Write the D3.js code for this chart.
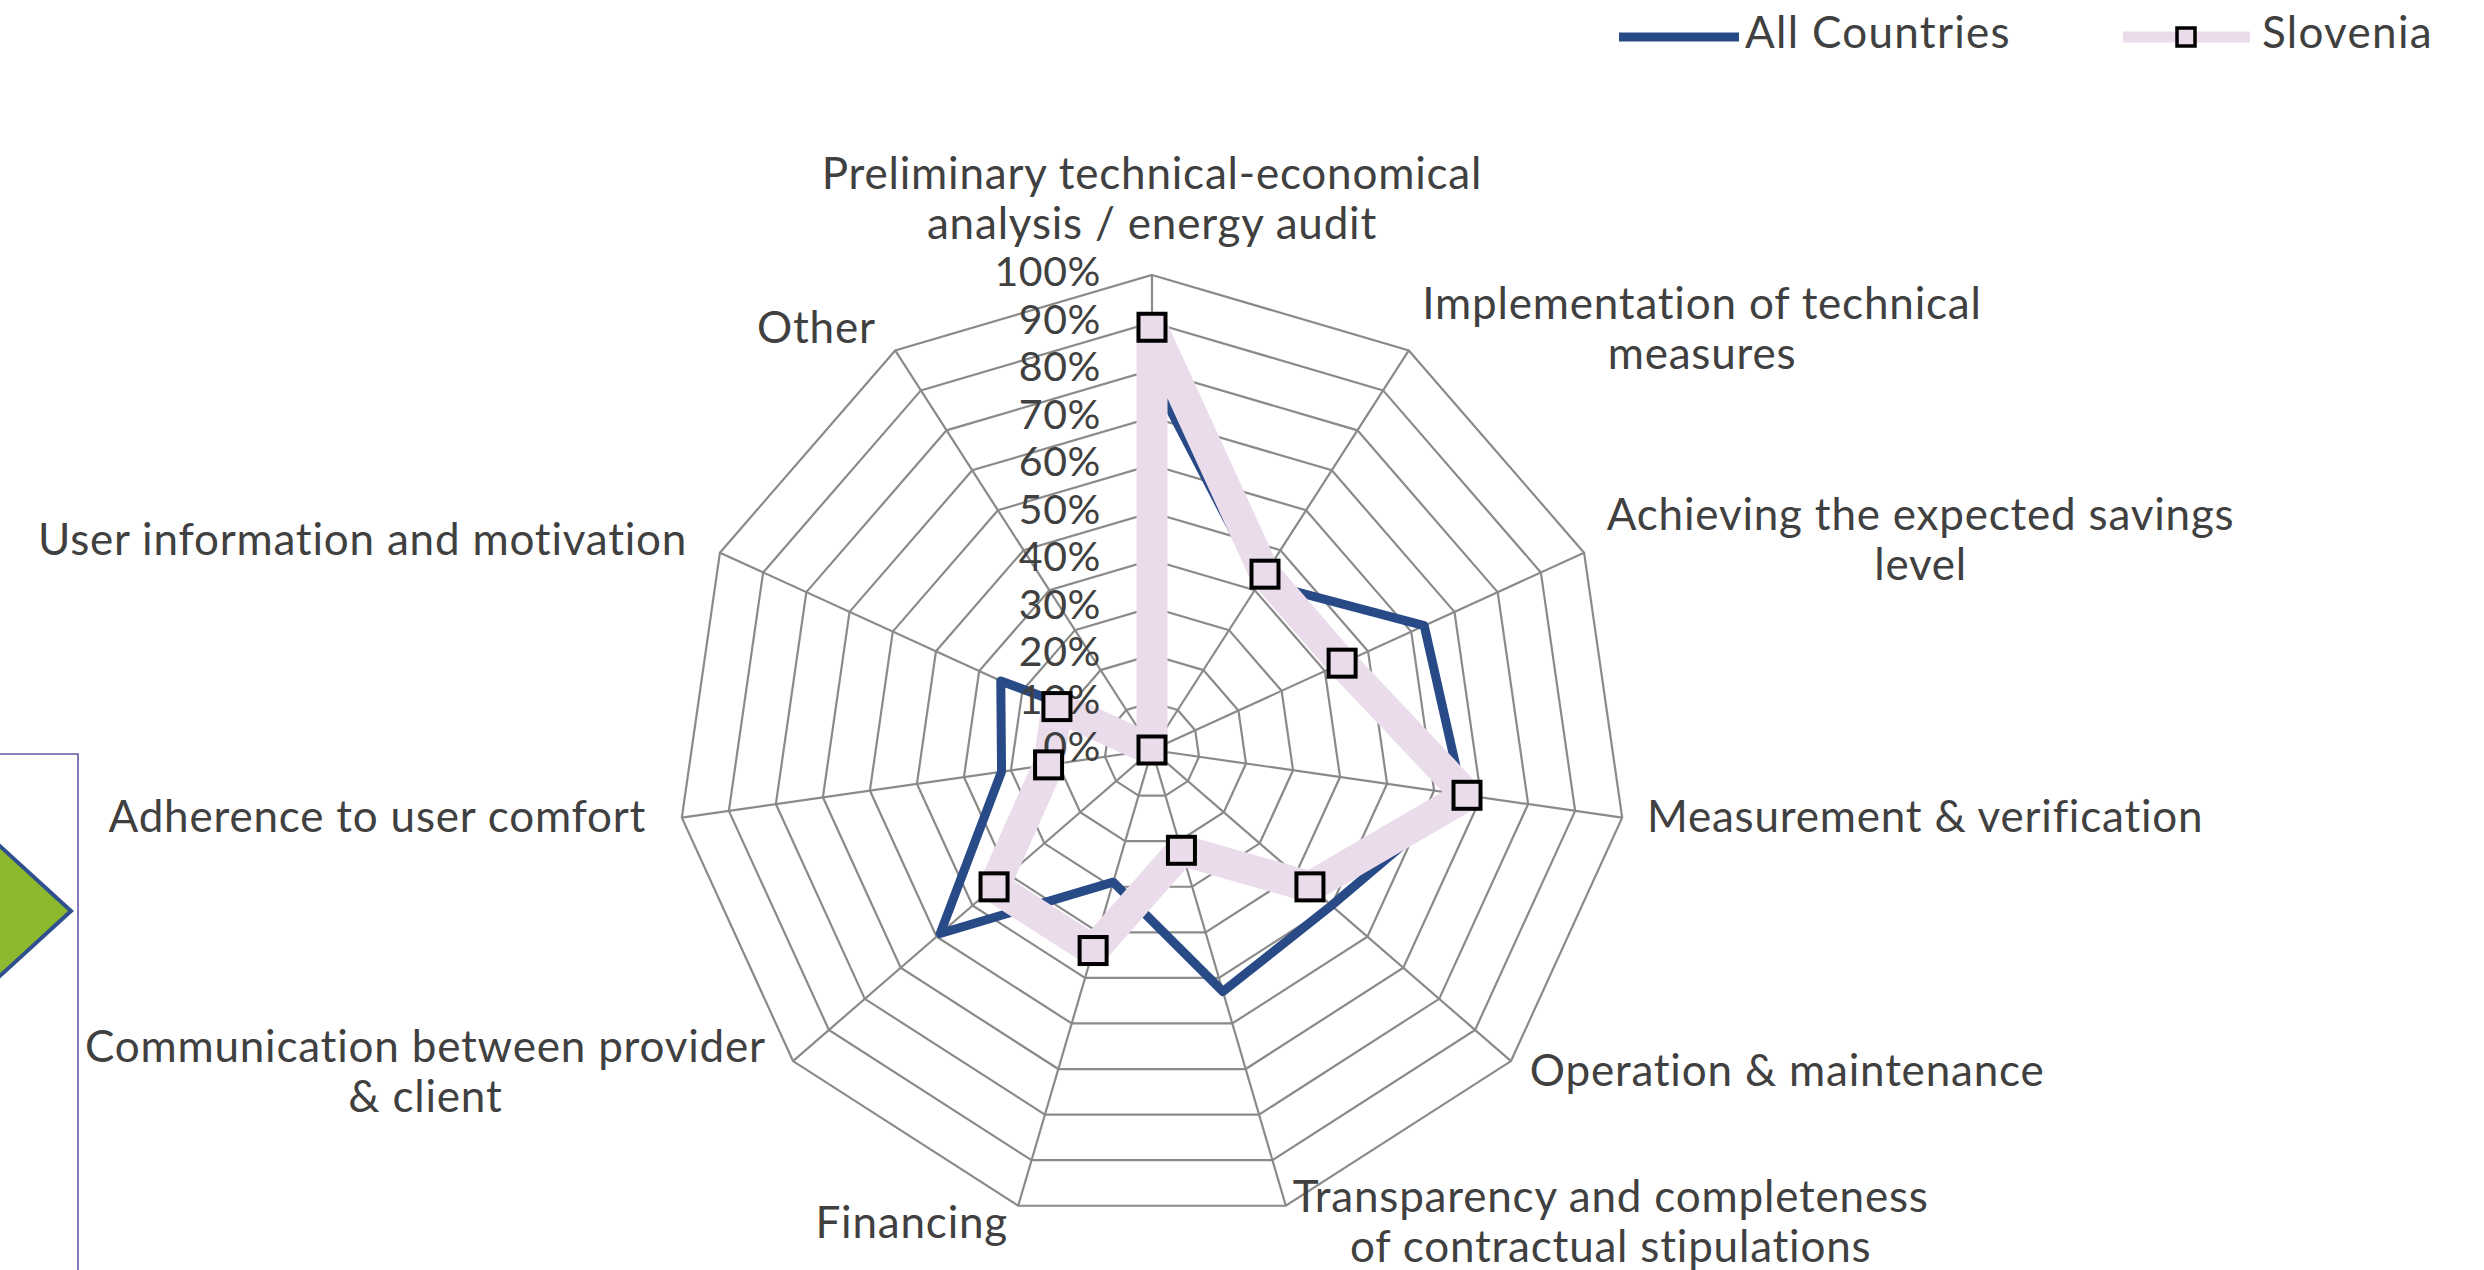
<!DOCTYPE html>
<html><head><meta charset="utf-8">
<script src="https://cdn.jsdelivr.net/npm/d3@7"></script>
<style>
body{margin:0;background:#fff;overflow:hidden;}
svg text{font-family:Lato,"Open Sans",sans-serif;fill:#404040;}
</style>
</head><body>
<svg id="chart" width="2484" height="1270"></svg>
<script>
// ---- data ----
const categories = [
  "Preliminary technical-economical\nanalysis / energy audit",
  "Implementation of technical\nmeasures",
  "Achieving the expected savings\nlevel",
  "Measurement & verification",
  "Operation & maintenance",
  "Transparency and completeness\nof contractual stipulations",
  "Financing",
  "Communication between provider\n& client",
  "Adherence to user comfort",
  "User information and motivation",
  "Other"
];
const seriesNames = ["All Countries", "Slovenia"];
const allCountries = [79, 42, 63, 66, 50, 53, 29, 59, 32, 35, 4];
const slovenia     = [89, 44, 44, 67, 44, 22, 44, 44, 22, 22, 0];
const tickValues = [0, 10, 20, 30, 40, 50, 60, 70, 80, 90, 100];
const tickLabels = ["0%", "10%", "20%", "30%", "40%", "50%", "60%", "70%", "80%", "90%", "100%"];

// ---- layout ----
const cx = 1152, cy = 750, R = 475;
const n = categories.length;
const step = 2 * Math.PI / n;
const svg = d3.select("#chart");

const r = d3.scaleLinear().domain([0, 100]).range([0, R]);
const angle = i => i * step;

// decorative fragments from the surrounding page (left edge)
svg.append("path")
  .attr("d", "M-10,837 L71,911 L-10,985 Z")
  .attr("fill", "#8DB92E").attr("stroke", "#2F4F8F").attr("stroke-width", 4);
svg.append("path")
  .attr("d", "M0,754 L78,754 L78,1275")
  .attr("fill", "none").attr("stroke", "#6655A8").attr("stroke-width", 1.6);

const g = svg.append("g").attr("transform", `translate(${cx},${cy})`);

// grid rings
const ringLine = d3.lineRadial()
  .angle((d, i) => angle(i))
  .radius(d => r(d))
  .curve(d3.curveLinearClosed);
g.selectAll("path.ring")
  .data(tickValues.filter(v => v > 0))
  .join("path")
  .attr("class", "ring")
  .attr("d", v => ringLine(categories.map(() => v)))
  .attr("fill", "none").attr("stroke", "#8a8a8a").attr("stroke-width", 2.2);

// spokes
g.selectAll("line.spoke")
  .data(categories)
  .join("line")
  .attr("class", "spoke")
  .attr("x1", 0).attr("y1", 0)
  .attr("x2", (d, i) => r(100) * Math.sin(angle(i)))
  .attr("y2", (d, i) => -r(100) * Math.cos(angle(i)))
  .attr("stroke", "#8a8a8a").attr("stroke-width", 2.2);

// category labels
const lineH = 50;
categories.forEach((label, i) => {
  const a = angle(i);
  const s = Math.sin(a), c = Math.cos(a);
  const vx = r(100) * s, vy = -r(100) * c;
  const left = s < -0.1;
  const gx = left ? 36 : 25, gy = left ? 22 : 21;
  const ax = vx + s * gx, ay = vy - c * gy;
  const lines = label.split("\n");
  const t = g.append("text").style("font-size", "44px").style("letter-spacing", "0.8px");
  lines.forEach(l => t.append("tspan").text(l));
  const widths = [];
  t.selectAll("tspan").each(function () { widths.push(this.getComputedTextLength()); });
  const bw = Math.max(...widths);
  let bx;
  if (s > 0.1) bx = ax + bw / 2;
  else if (left) bx = ax - bw / 2;
  else bx = ax;
  const bh = lines.length * lineH;
  let top;
  if (Math.abs(s) <= 0.1 && c > 0) top = vy - 22 - bh; else top = ay - bh / 2;
  t.attr("text-anchor", "middle");
  t.selectAll("tspan")
    .attr("x", bx)
    .attr("y", (d, k) => top + lineH * k + lineH / 2)
    .attr("dominant-baseline", "middle");
});

// series
const seriesLine = d3.lineRadial()
  .angle((d, i) => angle(i))
  .radius(d => r(d))
  .curve(d3.curveLinearClosed);

const blue = "#284B87", pink = "#EBDCEC";

g.append("path")
  .attr("d", seriesLine(allCountries))
  .attr("fill", "none").attr("stroke", blue).attr("stroke-width", 9)
  .attr("stroke-linejoin", "round");

g.append("path")
  .attr("d", seriesLine(slovenia))
  .attr("fill", "none").attr("stroke", pink).attr("stroke-width", 31)
  .attr("stroke-linejoin", "round");

// percent tick labels (value axis)
g.selectAll("text.tick")
  .data(tickValues)
  .join("text")
  .attr("class", "tick")
  .attr("x", -51)
  .attr("y", v => -r(v) + 1)
  .attr("text-anchor", "end")
  .attr("dominant-baseline", "middle")
  .style("font-size", "41px")
  .style("letter-spacing", "0.6px")
  .text((v, i) => tickLabels[i]);

const ms = 27;
g.selectAll("rect.marker")
  .data(slovenia)
  .join("rect")
  .attr("class", "marker")
  .attr("x", (d, i) => r(d) * Math.sin(angle(i)) - ms / 2)
  .attr("y", (d, i) => -r(d) * Math.cos(angle(i)) - ms / 2)
  .attr("width", ms).attr("height", ms)
  .attr("fill", pink).attr("stroke", "#000").attr("stroke-width", 4);

// legend
const lg = svg.append("g");
lg.append("line").attr("x1", 1619).attr("x2", 1739).attr("y1", 37).attr("y2", 37)
  .attr("stroke", blue).attr("stroke-width", 9);
lg.append("text").attr("x", 1745).attr("y", 37).attr("dominant-baseline", "middle")
  .style("font-size", "44px").style("letter-spacing", "1.3px").text(seriesNames[0]);
lg.append("line").attr("x1", 2123).attr("x2", 2250).attr("y1", 37).attr("y2", 37)
  .attr("stroke", pink).attr("stroke-width", 11);
lg.append("rect").attr("x", 2177).attr("y", 28).attr("width", 18).attr("height", 18)
  .attr("fill", pink).attr("stroke", "#000").attr("stroke-width", 3.5);
lg.append("text").attr("x", 2262).attr("y", 37).attr("dominant-baseline", "middle")
  .style("font-size", "44px").style("letter-spacing", "1.3px").text(seriesNames[1]);
</script>
</body></html>
